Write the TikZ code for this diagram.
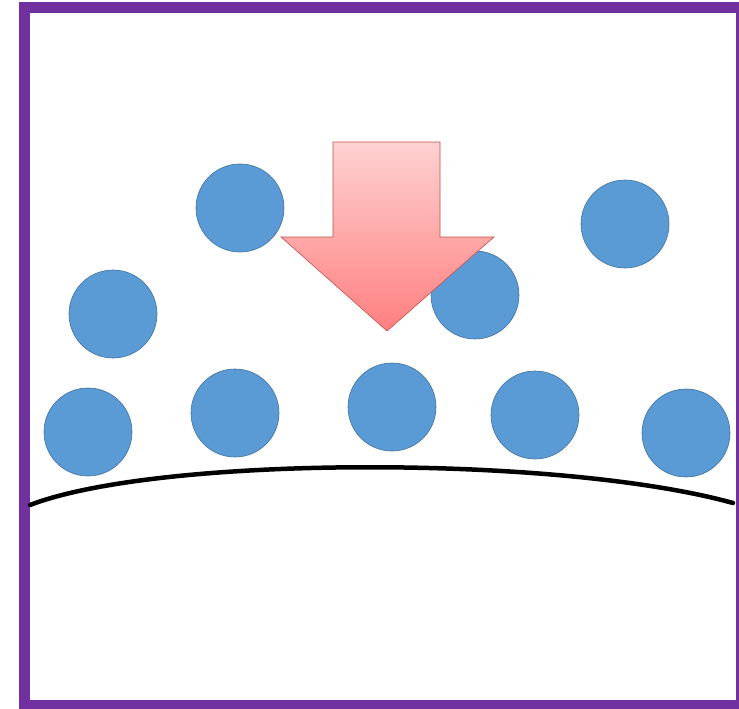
\documentclass[tikz,border=0pt]{standalone}
\usepackage{tikz}
\usepackage{xcolor}

\definecolor{frame}{HTML}{7030A0}
\definecolor{ballfill}{HTML}{5B9BD5}
\definecolor{balledge}{HTML}{41719C}
\definecolor{arrowedge}{HTML}{C0504D}

\begin{document}
\begin{tikzpicture}[
      x = 1pt, y = -1pt,
      ball/.style = {circle, fill = ballfill, draw = balledge, line width = 0.6pt, minimum size = 88pt, inner sep = 0pt},
      surface/.style = {line width = 4.5pt, line cap = round}
      ]
      \useasboundingbox (0,0) rectangle (739,709);
      \fill[white] (0,0) rectangle (739,709);
      \begin{scope}
      \clip (0,0) rectangle (739,709);
      \draw[frame, line width = 11pt] (24,8) rectangle (741,705);
      \end{scope}
      % balls in the air
      \node[ball] (b1) at (240,208) {};
      \node[ball] (b2) at (113,314) {};
      \node[ball] (b3) at (625,224) {};
      \node[ball] (b4) at (475,295) {};
      % balls on the surface
      \node[ball] (s1) at (88,432) {};
      \node[ball] (s2) at (235,413) {};
      \node[ball] (s3) at (392,407) {};
      \node[ball] (s4) at (535,415) {};
      \node[ball] (s5) at (686,433) {};
      % surface
      \coordinate (left) at (30,505);
      \coordinate (right) at (733,503);
      \draw[surface] (left) .. controls (160,455) and (560,455) .. (right);
      % arrow
      \path[draw = arrowedge, line width = 0.6pt, top color = red!18, bottom color = red!50!white]
            (333,142) -- (440,142) -- (440,237) -- (494,237) -- (387,331)
            -- (281,237) -- (333,237) -- cycle;
\end{tikzpicture}
\end{document}
